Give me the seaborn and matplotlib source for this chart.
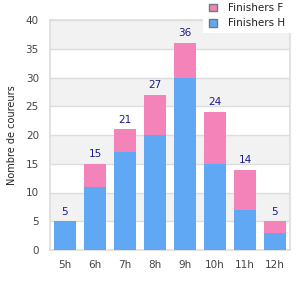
import matplotlib
matplotlib.use("Agg")
import matplotlib.pyplot as plt
import seaborn as sns
import pandas as pd
from matplotlib.patches import Patch, Rectangle

sns.set_style("white")

hours = ["5h", "6h", "7h", "8h", "9h", "10h", "11h", "12h"]
finishers_h = [5, 11, 17, 20, 30, 15, 7, 3]
finishers_f = [0, 4, 4, 7, 6, 9, 7, 2]
totals = [h + f for h, f in zip(finishers_h, finishers_f)]

pink = "#f383b9"
blue = "#60a8f4"
grid_col = "#dddddd"
text_col = "#444444"

df = pd.DataFrame({"heure": hours, "H": finishers_h, "F": finishers_f, "total": totals})

fig = plt.figure(figsize=(3, 3), dpi=100)
ax = fig.add_axes([50 / 300, 50 / 300, 240 / 300, 230 / 300])

# alternating background bands
for lo in range(5, 40, 10):
    ax.axhspan(lo, lo + 5, color="#f2f2f2", zorder=0, lw=0)

sns.barplot(x="heure", y="total", data=df, color=pink, width=0.73,
            saturation=1, ax=ax, zorder=2, linewidth=0)
sns.barplot(x="heure", y="H", data=df, color=blue, width=0.73,
            saturation=1, ax=ax, zorder=3, linewidth=0)

for i, t in enumerate(totals):
    ax.text(i, t + 0.8, str(t), ha="center", va="bottom", fontsize=7.5,
            color="#1a1a8c", zorder=4)

ax.set_ylim(0, 40)
ax.set_xlim(-0.5, len(hours) - 0.5)
ax.set_yticks(range(0, 41, 5))
ax.yaxis.grid(True, color=grid_col, lw=1)
ax.set_axisbelow(True)
for s in ax.spines.values():
    s.set_color(grid_col)
    s.set_linewidth(1.2)
ax.tick_params(axis="both", length=0, labelsize=7.5, colors=text_col)
ax.tick_params(axis="x", pad=7)
ax.tick_params(axis="y", pad=8)
ax.set_xlabel("")
ax.set_ylabel("Nombre de coureurs", fontsize=7, color="#222222", labelpad=6)

# white box behind the legend, covering the top right of the plot
fig.add_artist(Rectangle((203 / 300, 267 / 300), 97 / 300, 33 / 300,
                         transform=fig.transFigure, facecolor="white",
                         edgecolor="none", zorder=5))

handles = [Patch(facecolor=pink, edgecolor="#777777", label="Finishers F"),
           Patch(facecolor=blue, edgecolor="#777777", label="Finishers H")]
leg = fig.legend(handles=handles, loc="upper left",
                 bbox_to_anchor=(206 / 300, 1.0), fontsize=7.5,
                 frameon=False, borderaxespad=0, borderpad=0.3,
                 handlelength=0.8, handleheight=0.8, labelspacing=0.5,
                 handletextpad=1.05)
leg.set_zorder(6)
for t in leg.get_texts():
    t.set_color("#222222")

fig.savefig("out.png", dpi=100)
